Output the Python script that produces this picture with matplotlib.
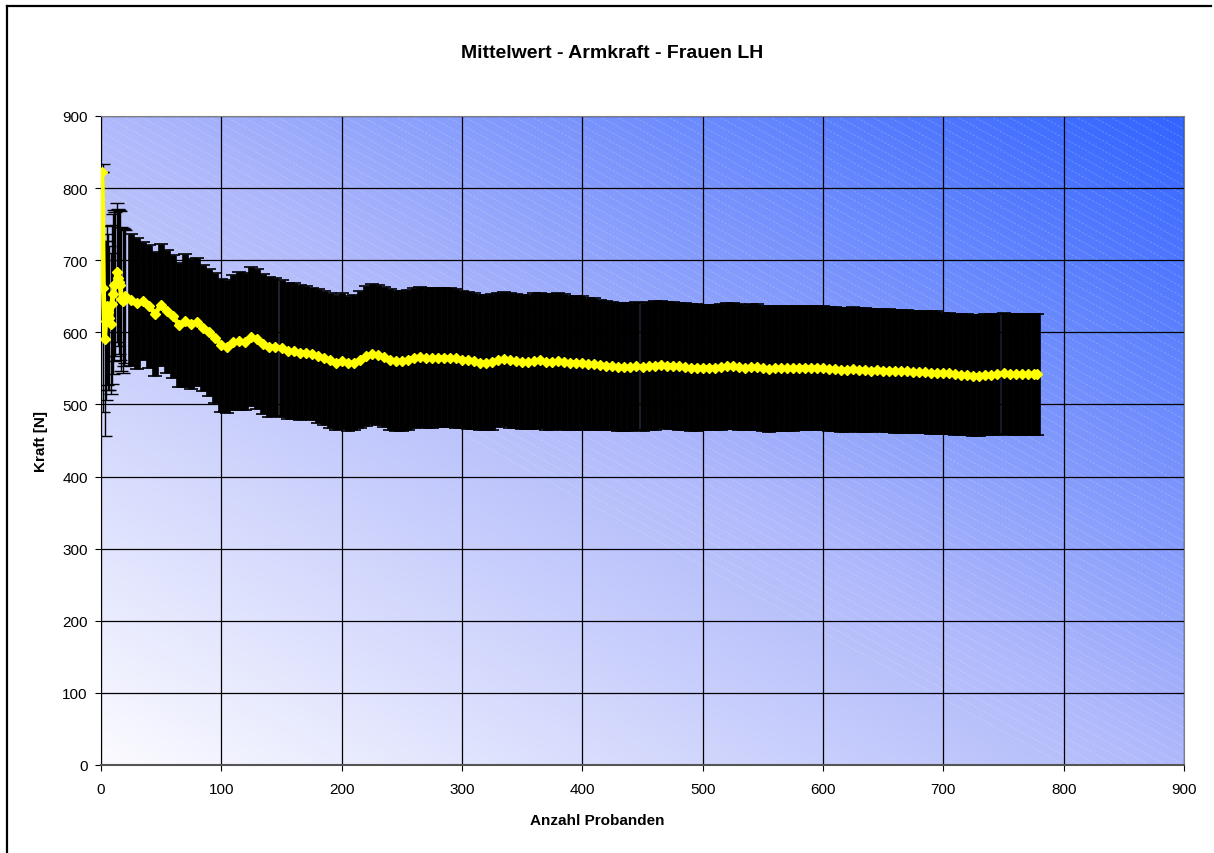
import matplotlib
matplotlib.use("Agg")
import matplotlib.pyplot as plt
import numpy as np
from matplotlib.colors import LinearSegmentedColormap
from matplotlib.collections import LineCollection
from matplotlib.lines import Line2D

plt.rcParams['font.family'] = ['Liberation Sans', 'DejaVu Sans']

titel = "Mittelwert - Armkraft - Frauen LH"
x_titel = "Anzahl Probanden"
y_titel = "Kraft [N]"
achsen_ticks = [0, 100, 200, 300, 400, 500, 600, 700, 800, 900]

# Anzahl Probanden: einzeln bis 20, danach in 5er-Schritten
n_probanden = list(range(1, 21)) + list(range(25, 780, 5)) + [778]

# laufender Mittelwert der Armkraft [N]
mittelwert = [
    822, 662, 591, 616, 637, 628, 620, 612, 639, 653,
    665, 667, 683, 676, 670, 665, 646, 644, 648, 650,
    645, 640, 643, 636, 626, 638, 629, 622, 610, 616,
    612, 614, 606, 600, 592, 582, 580, 586, 588, 587,
    594, 591, 584, 580, 580, 578, 574, 574, 572, 572,
    570, 567, 565, 561, 558, 560, 557, 558, 562, 567,
    570, 569, 566, 562, 560, 560, 562, 565, 566, 564,
    564, 565, 565, 565, 564, 562, 561, 560, 558, 558,
    559, 562, 563, 561, 560, 559, 559, 560, 561, 559,
    559, 560, 559, 558, 558, 557, 556, 556, 555, 554,
    553, 552, 552, 552, 553, 552, 553, 554, 555, 554,
    554, 553, 552, 551, 551, 551, 551, 551, 552, 553,
    553, 552, 551, 552, 552, 550, 549, 550, 550, 550,
    550, 551, 551, 551, 551, 550, 549, 549, 548, 548,
    549, 548, 548, 547, 548, 547, 547, 546, 546, 546,
    545, 545, 545, 544, 544, 543, 543, 542, 541, 541,
    540, 540, 541, 541, 542, 543, 542, 542, 542, 542,
    542, 542,
]

# Standardabweichung [N]
stdabw = [
    0, 172, 135, 110, 110, 108, 100, 98, 110, 111,
    105, 100, 96, 95, 100, 103, 100, 100, 95, 92,
    91, 91, 82, 85, 86, 85, 85, 85, 86, 92,
    90, 89, 88, 88, 90, 92, 92, 94, 96, 95,
    96, 97, 97, 97, 96, 95, 94, 94, 94, 92,
    92, 93, 93, 93, 94, 94, 94, 94, 95, 97,
    97, 97, 97, 98, 97, 97, 97, 97, 97, 97,
    97, 96, 96, 96, 96, 95, 95, 94, 94, 94,
    94, 93, 93, 93, 93, 93, 93, 94, 94, 94,
    94, 94, 94, 93, 93, 93, 92, 91, 90, 89,
    89, 89, 89, 89, 89, 89, 89, 89, 88, 88,
    88, 88, 88, 88, 88, 87, 87, 87, 87, 87,
    87, 87, 87, 87, 87, 87, 87, 87, 87, 87,
    87, 86, 86, 86, 86, 86, 86, 86, 86, 86,
    86, 86, 86, 85, 85, 85, 85, 85, 85, 85,
    85, 85, 85, 85, 85, 84, 84, 84, 84, 84,
    84, 84, 84, 84, 84, 84, 84, 84, 84, 84,
    84, 84,
]


def hintergrund(ax):
    # diagonaler Verlauf weiss -> blau
    gx, gy = np.meshgrid(np.linspace(0, 1, 400), np.linspace(0, 1, 300))
    verlauf = (gx + gy) / 2
    cmap = LinearSegmentedColormap.from_list(
        "flaeche", ["#fbfbff", "#b0b9fb", "#3264ff"])
    ax.imshow(verlauf, cmap=cmap, extent=[0, 900, 0, 900], origin="lower",
              aspect="auto", zorder=0, interpolation="bilinear")

    # feine helle Schraffur
    steigung = 0.918
    linien = []
    for c in np.arange(-0.2, 1.2 + 1 / steigung, 0.0157):
        linien.append([(c, 1.0), (c + 1 / steigung, 0.0)])
    lc = LineCollection(linien, colors="white", linewidths=0.7, alpha=0.2,
                        linestyles=(0, (2.5, 1.5)), transform=ax.transAxes,
                        zorder=0.2)
    ax.add_collection(lc, autolim=False)


def main():
    fig = plt.figure(figsize=(12.14, 8.54), dpi=100)
    ax = fig.add_axes([101 / 1214, 88 / 854, 1083 / 1214, 649 / 854])

    hintergrund(ax)

    n = np.array(n_probanden)
    m = np.array(mittelwert)
    s = np.array(stdabw)

    ax.errorbar(n[:20], m[:20], yerr=s[:20], fmt="none", ecolor="black",
                elinewidth=1.0, capsize=5, capthick=1.0, zorder=2)
    ax.errorbar(n[20:], m[20:], yerr=s[20:], fmt="none", ecolor="black",
                elinewidth=4.8, capsize=5, capthick=1.2, zorder=2)
    ax.plot(n, m, color="#ffff00", lw=3.5, marker="D", ms=5.5,
            mec="#ffff00", zorder=3)

    ax.set_xlim(0, 900)
    ax.set_ylim(0, 900)
    ax.set_xticks(achsen_ticks)
    ax.set_yticks(achsen_ticks)
    ax.grid(color="black", lw=0.9)
    for line in ax.get_xgridlines() + ax.get_ygridlines():
        line.set_zorder(1)

    ax.tick_params(direction="out", length=4.5, width=0.8, color="black",
                   labelsize=11)
    ax.tick_params(axis="x", pad=8)
    ax.tick_params(axis="y", pad=5)

    ax.spines["left"].set_color("black")
    ax.spines["bottom"].set_color("#555555")
    ax.spines["bottom"].set_linewidth(1.5)
    ax.spines["top"].set_color("#808080")
    ax.spines["right"].set_color("#808080")

    fig.text(0.504, 1 - 53 / 854, titel, ha="center", va="center",
             fontsize=14, fontweight="bold")
    fig.text(597.5 / 1214, 1 - 821 / 854, x_titel, ha="center", va="center",
             fontsize=11, fontweight="bold")
    fig.text(41.5 / 1214, 1 - 442 / 854, y_titel, ha="center", va="center",
             fontsize=11, fontweight="bold", rotation=90)

    # Rahmen um das Diagramm
    fig.add_artist(Line2D([7 / 1214, 7 / 1214], [0, 1 - 7 / 854],
                          color="black", lw=1.6))
    fig.add_artist(Line2D([7 / 1214, 1211 / 1214], [1 - 7 / 854, 1 - 7 / 854],
                          color="black", lw=1.6))

    fig.savefig("out.png", dpi=100)


if __name__ == "__main__":
    main()
